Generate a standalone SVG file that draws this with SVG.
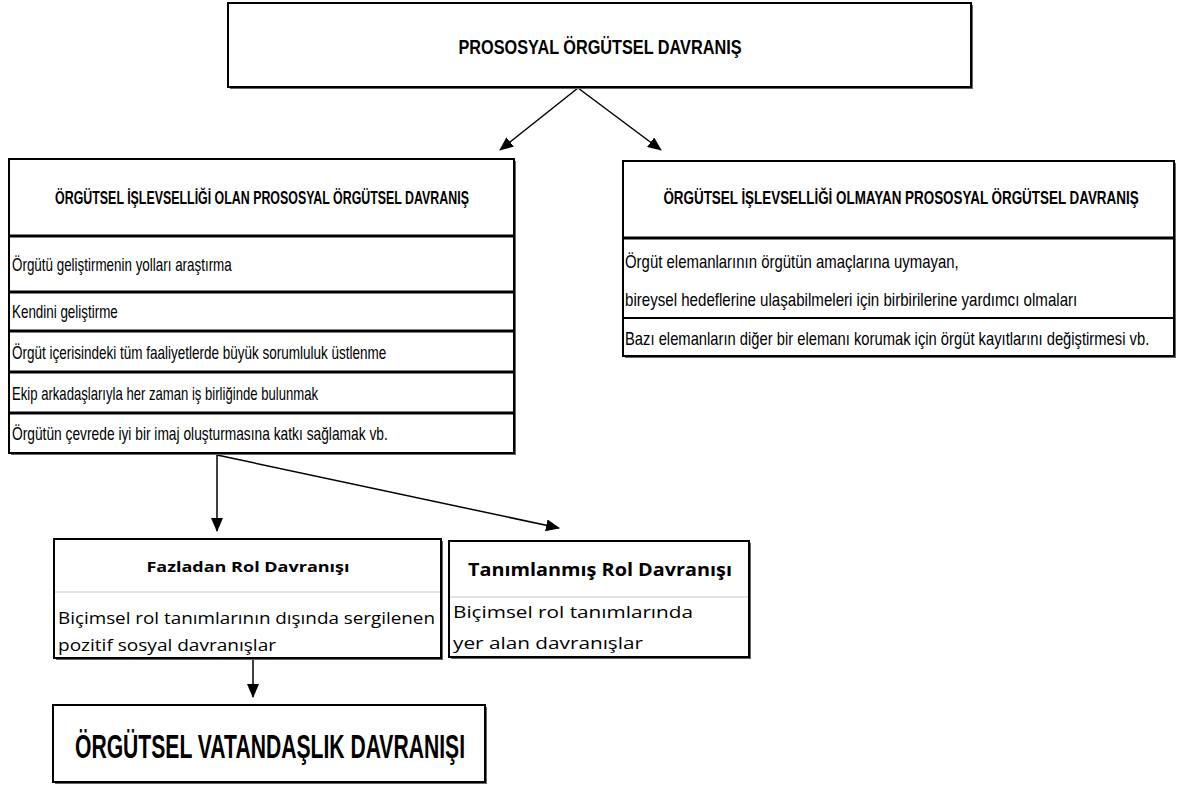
<svg xmlns="http://www.w3.org/2000/svg" width="1180" height="785" viewBox="0 0 1180 785">
<defs>
<style>
.box{fill:#fff;stroke:#000;stroke-width:2}
.shadow{fill:#666}
.sep{stroke:#000;stroke-width:3}
.septhin{stroke:#000;stroke-width:2}
.sepgray{stroke:#c8c8c8;stroke-width:1.2}
.cond{font-family:"Liberation Sans Narrow","Liberation Sans",Arial,sans-serif;fill:#000}
.b{font-weight:bold}
.open{font-family:"Open Sans","Noto Sans",sans-serif;fill:#000}
.conn{stroke:#000;stroke-width:1.5;fill:none}
</style>
<marker id="ah" markerUnits="userSpaceOnUse" markerWidth="14" markerHeight="12" refX="13" refY="6" orient="auto">
<path d="M0,0 L14,6 L0,12 Z" fill="#000"/>
</marker>
</defs>

<g id="connectors">
<line class="conn" x1="578" y1="88" x2="500" y2="150" marker-end="url(#ah)"/>
<line class="conn" x1="578" y1="88" x2="661" y2="150" marker-end="url(#ah)"/>
<line class="conn" x1="217" y1="455" x2="217" y2="531" marker-end="url(#ah)"/>
<line class="conn" x1="217" y1="455" x2="559" y2="528" marker-end="url(#ah)"/>
<line class="conn" x1="253" y1="659" x2="253" y2="697" marker-end="url(#ah)"/>
</g>

<g id="node-top">
<rect class="shadow" x="230" y="5" width="743" height="84"/>
<rect class="box" x="228" y="3" width="743" height="84"/>
<text class="cond b" transform="translate(600,54) scale(0.72,1)" font-size="20" text-anchor="middle" textLength="393" lengthAdjust="spacingAndGlyphs">PROSOSYAL ÖRGÜTSEL DAVRANIŞ</text>
</g>

<g id="node-left">
<rect class="shadow" x="11" y="161" width="505" height="294"/>
<rect class="box" x="9" y="159" width="505" height="294"/>
<line class="sep" x1="9" y1="236" x2="514" y2="236"/>
<line class="sep" x1="9" y1="292" x2="514" y2="292"/>
<line class="sep" x1="9" y1="331" x2="514" y2="331"/>
<line class="sep" x1="9" y1="372" x2="514" y2="372"/>
<line class="sep" x1="9" y1="413" x2="514" y2="413"/>
<text class="cond b" transform="translate(262,204) scale(0.66,1)" font-size="18" text-anchor="middle" textLength="627" lengthAdjust="spacingAndGlyphs">ÖRGÜTSEL İŞLEVSELLİĞİ OLAN PROSOSYAL ÖRGÜTSEL DAVRANIŞ</text>
<text class="cond" transform="translate(12,271) scale(0.75,1)" font-size="18" textLength="293" lengthAdjust="spacingAndGlyphs">Örgütü geliştirmenin yolları araştırma</text>
<text class="cond" transform="translate(12,318) scale(0.75,1)" font-size="18" textLength="141" lengthAdjust="spacingAndGlyphs">Kendini geliştirme</text>
<text class="cond" transform="translate(12,359) scale(0.75,1)" font-size="18" textLength="499" lengthAdjust="spacingAndGlyphs">Örgüt içerisindeki tüm faaliyetlerde büyük sorumluluk üstlenme</text>
<text class="cond" transform="translate(12,400) scale(0.75,1)" font-size="18" textLength="408" lengthAdjust="spacingAndGlyphs">Ekip arkadaşlarıyla her zaman iş birliğinde bulunmak</text>
<text class="cond" transform="translate(12,440) scale(0.75,1)" font-size="18" textLength="501" lengthAdjust="spacingAndGlyphs">Örgütün çevrede iyi bir imaj oluşturmasına katkı sağlamak vb.</text>
</g>

<g id="node-right">
<rect class="shadow" x="625" y="163" width="551" height="195"/>
<rect class="box" x="623" y="161" width="551" height="195"/>
<line class="sep" x1="623" y1="238" x2="1174" y2="238"/>
<line class="septhin" x1="623" y1="318" x2="1174" y2="318"/>
<text class="cond b" transform="translate(901,204) scale(0.66,1)" font-size="18" text-anchor="middle" textLength="720" lengthAdjust="spacingAndGlyphs">ÖRGÜTSEL İŞLEVSELLİĞİ OLMAYAN PROSOSYAL ÖRGÜTSEL DAVRANIŞ</text>
<text class="cond" transform="translate(625,268) scale(0.75,1)" font-size="18" textLength="445" lengthAdjust="spacingAndGlyphs">Örgüt elemanlarının örgütün amaçlarına uymayan,</text>
<text class="cond" transform="translate(625,306) scale(0.75,1)" font-size="18" textLength="603" lengthAdjust="spacingAndGlyphs">bireysel hedeflerine ulaşabilmeleri için birbirilerine yardımcı olmaları</text>
<text class="cond" transform="translate(625,345) scale(0.75,1)" font-size="18" textLength="699" lengthAdjust="spacingAndGlyphs">Bazı elemanların diğer bir elemanı korumak için örgüt kayıtlarını değiştirmesi vb.</text>
</g>

<g id="node-fazladan">
<rect class="shadow" x="56" y="541" width="387" height="119"/>
<rect class="box" x="54" y="539" width="387" height="119"/>
<line class="sepgray" x1="55" y1="592" x2="440" y2="592"/>
<text class="open b" x="248" y="572" font-size="15" text-anchor="middle" textLength="203" lengthAdjust="spacingAndGlyphs">Fazladan Rol Davranışı</text>
<text class="open" x="58" y="624" font-size="16" textLength="377" lengthAdjust="spacingAndGlyphs">Biçimsel rol tanımlarının dışında sergilenen</text>
<text class="open" x="58" y="651" font-size="16" textLength="218" lengthAdjust="spacingAndGlyphs">pozitif sosyal davranışlar</text>
</g>

<g id="node-tanimlanmis">
<rect class="shadow" x="451" y="543" width="300" height="116"/>
<rect class="box" x="449" y="541" width="300" height="116"/>
<line class="sepgray" x1="450" y1="597" x2="748" y2="597"/>
<text class="open b" x="600" y="576" font-size="17" text-anchor="middle" textLength="264" lengthAdjust="spacingAndGlyphs">Tanımlanmış Rol Davranışı</text>
<text class="open" x="453" y="618" font-size="16" textLength="240" lengthAdjust="spacingAndGlyphs">Biçimsel rol tanımlarında</text>
<text class="open" x="453" y="649" font-size="16" textLength="190" lengthAdjust="spacingAndGlyphs">yer alan davranışlar</text>
</g>

<g id="node-vatandaslik">
<rect class="shadow" x="55" y="707" width="432" height="77"/>
<rect class="box" x="53" y="705" width="432" height="77"/>
<text class="cond b" transform="translate(270,758) scale(0.6,1)" font-size="34" text-anchor="middle" textLength="650" lengthAdjust="spacingAndGlyphs">ÖRGÜTSEL VATANDAŞLIK DAVRANIŞI</text>
</g>
</svg>
